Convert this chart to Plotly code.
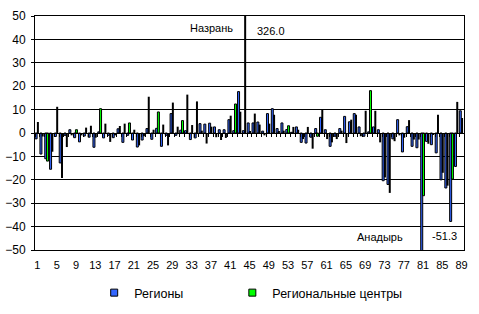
import plotly.graph_objects as go

# ---- data -----------------------------------------------------------------
categories = list(range(1, 90))

regions = [
    -2.5, -9.0, -11.0, -15.5, -1.5, -12.8, -1.0, 1.4, -2.0, -3.8,
    -1.3, -1.8, -6.1, 0.5, -2.1, -1.0, -2.0, 1.8, -4.0, -1.0,
    -3.0, -6.0, -3.0, 1.9, -2.7, 2.0, -5.7, -1.0, 8.3, -1.0,
    1.2, 1.0, -2.8, -2.1, 4.0, 3.8, 4.2, 2.6, 1.4, 1.4,
    5.7, 1.0, 17.7, 1.0, 4.3, 4.3, 4.7, 0.8, 8.3, 10.4,
    1.9, 4.3, 1.5, 0.3, 2.6, -4.0, -4.3, -1.8, 1.9, 6.7,
    1.4, -5.7, -1.4, 1.9, 7.1, 4.8, 8.3, 2.6, -1.4, 0.5,
    2.6, 1.4, -20.4, -22.0, -2.5, 5.7, -8.1, 2.7, -5.7, -6.3,
    -51.3, -3.6, -5.0, -8.5, -20.0, -23.5, -37.8, -14.3, 9.5,
]

centers = [
    4.7, -1.5, -12.0, -8.0, 11.2, -19.2, -6.0, -1.0, 1.4, -1.0,
    2.3, 3.1, -2.0, 10.4, 4.0, -3.8, -1.0, 3.0, 4.0, 4.3,
    1.4, -5.3, -1.4, 15.5, 1.4, 9.0, 3.6, -5.3, 13.0, 2.7,
    5.3, 16.4, 3.4, 13.5, 1.0, -4.5, 2.7, -1.8, -3.0, -2.1,
    7.4, 12.4, 9.1, 326.0, 0.5, 8.3, 3.6, -1.0, 4.0, 7.8,
    0.5, 1.0, 3.1, 2.6, 1.4, -2.6, 2.6, -6.7, -1.4, 10.0,
    -2.6, -4.0, -2.6, 1.0, -4.3, 5.7, 7.8, -1.4, 9.5, 18.1,
    9.5, -4.0, -19.0, -25.6, -3.5, -1.0, -2.0, 5.5, -2.8, -2.8,
    -26.8, -4.6, -0.5, 7.8, -17.0, -22.5, -19.7, 13.3, 6.4,
]

x_tick_values = list(range(1, 90, 4))
x_tick_labels = [str(v) for v in x_tick_values]
y_tick_values = list(range(-50, 51, 10))

series_names = ["Регионы", "Региональные центры"]

note_nazran = ("Назрань", 44, "326.0")
note_anadyr = ("Анадырь", 81, "-51.3")

# ---- style ----------------------------------------------------------------
BLUE = "#3366ff"
GREEN = "#00ff00"
FONT = "Liberation Sans, Arial, sans-serif"
green_drawn = [3, 9, 14, 20, 26, 31, 42, 53, 59, 70, 81, 87]
center_colors = [GREEN if c in green_drawn else "black" for c in categories]
center_line_w = [1 if c in green_drawn else 0 for c in categories]

fig = go.Figure()

fig.add_trace(go.Bar(
    x=categories, y=regions, name=series_names[0], showlegend=False,
    marker=dict(color=BLUE, line=dict(color="black", width=1)),
    width=0.415, offset=-0.477,
))
fig.add_trace(go.Bar(
    x=categories, y=centers, name=series_names[1], showlegend=False,
    marker=dict(color=center_colors, line=dict(color="black", width=center_line_w)),
    width=0.415, offset=-0.107,
))

# legend entries (one legend per entry so each can be placed like the original)
fig.add_trace(go.Scatter(
    x=[None], y=[None], mode="markers", name=series_names[0], legend="legend",
    marker=dict(symbol="square", size=7, color=BLUE, line=dict(color="black", width=1)),
))
fig.add_trace(go.Scatter(
    x=[None], y=[None], mode="markers", name=series_names[1], legend="legend2",
    marker=dict(symbol="square", size=7, color=GREEN, line=dict(color="black", width=1)),
))

nz_name, nz_cat, nz_val = note_nazran
an_name, an_cat, an_val = note_anadyr
ann_font = dict(family=FONT, size=11, color="black")
annotations = [
    dict(x=nz_cat, y=44.8, text=nz_name, showarrow=False, xanchor="right",
         yanchor="middle", xshift=-10, font=ann_font),
    dict(x=nz_cat, y=43.8, text=nz_val, showarrow=False, xanchor="left",
         yanchor="middle", xshift=10, font=ann_font),
    dict(x=an_cat, y=-44.6, text=an_name, showarrow=False, xanchor="right",
         yanchor="middle", xshift=-18, font=ann_font),
    dict(x=an_cat, y=-43.9, text=an_val, showarrow=False, xanchor="left",
         yanchor="middle", xshift=7, font=ann_font),
]

legend_common = dict(
    orientation="h", yref="container", y=1 - 293 / 314, yanchor="middle",
    xanchor="left", font=dict(family=FONT, size=12.5, color="black"),
    itemwidth=30, bgcolor="rgba(0,0,0,0)", borderwidth=0,
)

fig.update_layout(
    width=479, height=314,
    margin=dict(l=35, r=15, t=16, b=64, autoexpand=False),
    paper_bgcolor="white", plot_bgcolor="white",
    barmode="overlay",
    font=dict(family=FONT, size=12, color="black"),
    annotations=annotations,
    legend=dict(x=0.138, **legend_common),
    legend2=dict(x=0.46, **legend_common),
    xaxis=dict(
        range=[0.5, 89.5], tickmode="array", tickvals=x_tick_values,
        ticktext=x_tick_labels, ticks="", showgrid=False, zeroline=False,
        showline=True, linecolor="black", linewidth=1, mirror=True,
        tickfont=dict(family=FONT, size=11, color="black"),
        ticklabelstandoff=5, automargin=False,
    ),
    xaxis2=dict(
        overlaying="x", matches="x", anchor="free", position=0.5,
        tickmode="linear", tick0=0.5, dtick=1, ticks="outside", ticklen=3,
        tickcolor="black", tickwidth=1, showticklabels=False, showgrid=False,
        zeroline=False, showline=True, linecolor="black", linewidth=1,
        automargin=False,
    ),
    yaxis=dict(
        range=[-50, 50], tickmode="array", tickvals=y_tick_values,
        ticks="outside", ticklen=3, tickcolor="black", showgrid=True,
        gridcolor="black", gridwidth=1, zeroline=True, zerolinecolor="black",
        zerolinewidth=1, showline=True, linecolor="black", linewidth=1,
        mirror=True, tickfont=dict(family=FONT, size=12, color="black"),
        ticklabelstandoff=3, automargin=False,
    ),
)

fig.add_trace(go.Scatter(x=[None], y=[None], xaxis="x2", yaxis="y",
                         showlegend=False, hoverinfo="skip"))

fig.write_html("out.html")
